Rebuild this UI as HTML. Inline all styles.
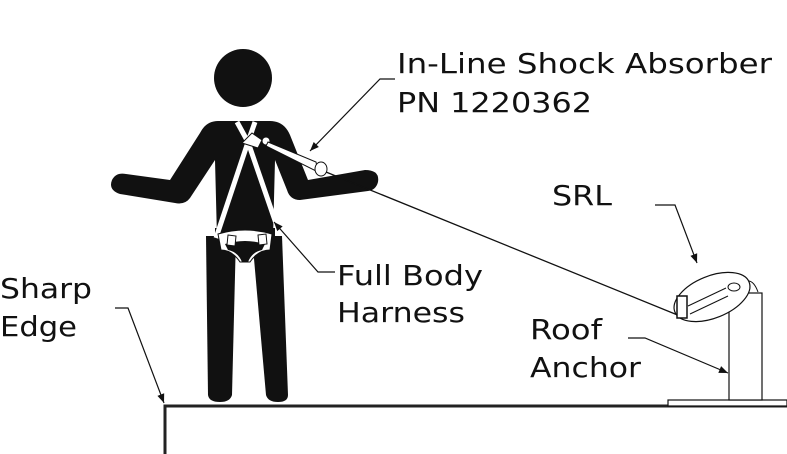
<!DOCTYPE html>
<html><head><style>html,body{margin:0;padding:0;background:#fff;}svg{display:block}</style></head>
<body>
<svg width="787" height="454" viewBox="0 0 787 454" xmlns="http://www.w3.org/2000/svg">
<defs><marker id="a" viewBox="0 0 10 10" refX="10" refY="5" markerWidth="20" markerHeight="9" markerUnits="userSpaceOnUse" orient="auto"><path d="M0,1 L10,5 L0,9 z" fill="#111"/></marker></defs>
<g fill="#111">
<circle cx="243" cy="78" r="29"/>
<path d="M218,121 L270,121 Q284,121 290,135 L308,180 L365,170 Q380,170 378,182 Q376,190 368,191 L300,200 Q290,200 287,190 L275,160 L273,238 L217,238 L215,160 L190,198 Q185,205 175,203 L120,194 Q108,190 112,180 Q116,172 126,174 L170,180 L200,133 Q206,121 218,121 z"/>
<path d="M206,236 L236,236 L232,395 Q230,402 220,402 Q209,402 208,395 z"/>
<path d="M252,236 L282,236 L288,395 Q288,402 278,402 Q268,402 266,395 z"/>
<rect x="215" y="228" width="60" height="20"/>
</g>
<g fill="none" stroke="#fff" stroke-width="5">
<path d="M237,122 L248,142 L216,238"/>
<path d="M255,122 L248,142 L280,235"/>
</g>
<path d="M218,234 Q245,226 272,234 L270,250 Q258,250 250,262 L240,262 Q232,250 221,250 z" fill="#fff" stroke="#111" stroke-width="1"/>
<path d="M225,244 Q245,238 265,244 L262,250 Q252,252 248,262 L242,262 Q238,252 228,250 z" fill="#111"/>
<path d="M228,235 L236,236 L235,246 L227,245 z M258,235 L266,234 L267,244 L259,245 z" fill="#fff" stroke="#111"/>
<path d="M242,143 L252,133 L262,140 L258,148 z" fill="#fff" stroke="#111"/>
<circle cx="266" cy="141" r="4" fill="#fff" stroke="#111"/>
<path d="M268,142 L316,162 L318,172 L266,146 z" fill="#fff" stroke="#111"/>
<ellipse cx="321" cy="169" rx="6" ry="7" fill="#fff" stroke="#111"/>
<path d="M326,172 L680,316" stroke="#111" stroke-width="1.3"/>
<path d="M165,454 L165,406 L787,406" fill="none" stroke="#222" stroke-width="3"/>
<rect x="668" y="400" width="119" height="6" fill="#fff" stroke="#111" stroke-width="1.2"/>
<rect x="729" y="293" width="33" height="107" fill="#fff" stroke="#111" stroke-width="1.2"/>
<path d="M735,292 Q750,270 758,292" fill="none" stroke="#111"/>
<ellipse cx="712" cy="297" rx="40" ry="21" transform="rotate(-22 712 297)" fill="#fff" stroke="#111" stroke-width="1.2"/>
<path d="M688,306 L726,288 M690,314 L728,296" stroke="#111"/>
<rect x="677" y="296" width="10" height="22" fill="#fff" stroke="#111" stroke-width="1.5"/>
<ellipse cx="734" cy="287" rx="6" ry="4" fill="#fff" stroke="#111"/>
<g stroke="#111" stroke-width="1.2" fill="none" marker-end="url(#a)">
<path d="M395,79 L380,79 L310,151"/>
<path d="M335,272 L318,272 L274,222"/>
<path d="M115,308 L128,308 L164,403"/>
<path d="M655,205 L675,205 L697,263"/>
<path d="M628,338 L645,338 L728,373"/>
</g>
<g font-family="'DejaVu Sans','Liberation Sans',sans-serif" font-size="28" fill="#111">
<text x="397" y="73" textLength="375" lengthAdjust="spacingAndGlyphs">In-Line Shock Absorber</text>
<text x="397" y="112" textLength="195" lengthAdjust="spacingAndGlyphs">PN 1220362</text>
<text x="552" y="205" textLength="60" lengthAdjust="spacingAndGlyphs">SRL</text>
<text x="337" y="285" textLength="146" lengthAdjust="spacingAndGlyphs">Full Body</text>
<text x="337" y="322" textLength="128" lengthAdjust="spacingAndGlyphs">Harness</text>
<text x="0" y="298" textLength="92" lengthAdjust="spacingAndGlyphs">Sharp</text>
<text x="0" y="336" textLength="77" lengthAdjust="spacingAndGlyphs">Edge</text>
<text x="530" y="339" textLength="72" lengthAdjust="spacingAndGlyphs">Roof</text>
<text x="530" y="377" textLength="111" lengthAdjust="spacingAndGlyphs">Anchor</text>
</g>
</svg>
</body></html>
